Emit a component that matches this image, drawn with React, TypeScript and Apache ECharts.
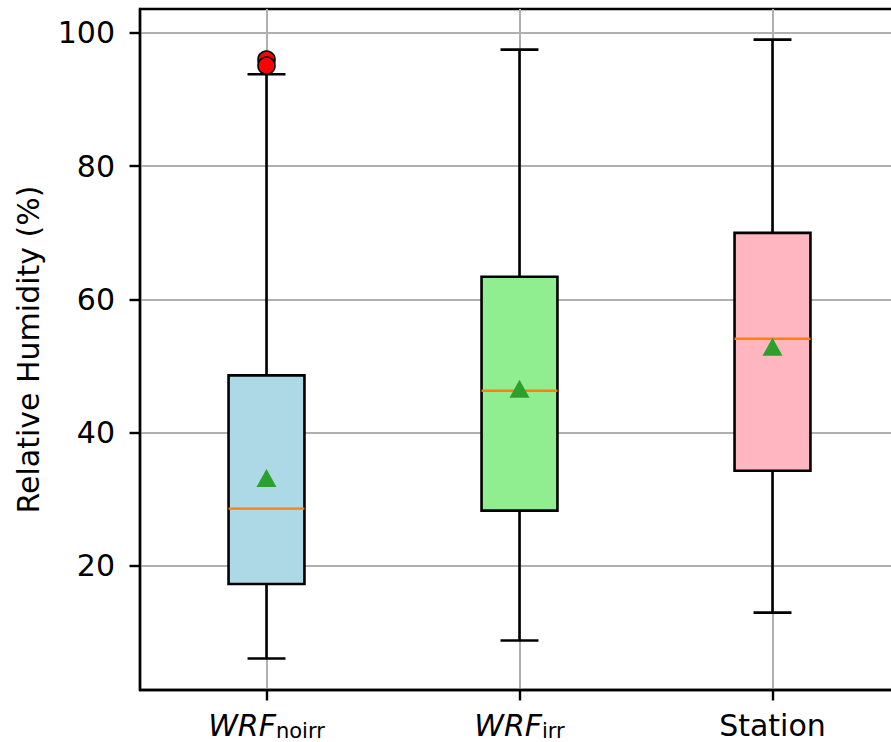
import React, { useEffect, useRef } from "react";
import * as echarts from "echarts";

// ---- data ----
const categories = ["WRF_noirr", "WRF_irr", "Station"];
const tickMain = ["WRF", "WRF", "Station"];
const tickSub = ["noirr", "irr", ""];
const whiskerLow = [6.1, 8.8, 13.0];
const q1 = [17.3, 28.3, 34.3];
const median = [28.6, 46.3, 54.1];
const q3 = [48.6, 63.4, 70.0];
const whiskerHigh = [93.8, 97.5, 99.0];
const means = [33.2, 46.6, 52.9];
const outliers = [
  [1, 96.0],
  [1, 95.1],
];
const yTicks = [20, 40, 60, 80, 100];
const xTicks = [1, 2, 3];

const boxColors = ["#ADD8E6", "#90EE90", "#FFB6C1"];
const FONT = "DejaVu Sans";
const LW = 2.6;
const BOX_W = 0.3;
const CAP_W = 0.15;

export default function App() {
  const ref = useRef<HTMLDivElement>(null);
  useEffect(() => {
    if (!ref.current) return;
    const chart = echarts.init(ref.current, null, { renderer: "svg" });
    const boxData = categories.map((_, i) => [
      i + 1,
      whiskerLow[i],
      q1[i],
      median[i],
      q3[i],
      whiskerHigh[i],
    ]);
    const option: any = {
      animation: false,
      backgroundColor: "#fff",
      grid: {
        left: 140,
        top: 9,
        bottom: 52,
        right: -8,
        containLabel: false,
        outerBoundsMode: "none",
        show: true,
        borderColor: "#000",
        borderWidth: 2.4,
        backgroundColor: "transparent",
      },
      xAxis: {
        type: "value",
        min: 0.5,
        max: 3.5,
        axisLine: { show: true, onZero: false, lineStyle: { color: "#000", width: 2.4 } },
        axisTick: {
          show: true,
          customValues: xTicks,
          length: 10.5,
          lineStyle: { color: "#000", width: 2.4 },
        },
        splitLine: { show: true, lineStyle: { color: "#b0b0b0", width: 2 } },
        axisLabel: {
          customValues: xTicks,
          margin: 19,
          color: "#000",
          fontFamily: FONT,
          formatter: (v: number) => {
            const i = Math.round(v) - 1;
            if (i < 0 || i >= tickMain.length) return "";
            if (tickSub[i]) return `{i|${tickMain[i]}}{s|${tickSub[i]}}`;
            return `{n|${tickMain[i]}}`;
          },
          rich: {
            i: {
              fontFamily: FONT,
              fontStyle: "italic",
              fontSize: 30,
              lineHeight: 32,
              color: "#000",
              verticalAlign: "middle",
            },
            s: {
              fontFamily: FONT,
              fontSize: 21,
              lineHeight: 16,
              color: "#000",
              verticalAlign: "bottom",
            },
            n: {
              fontFamily: FONT,
              fontSize: 30,
              lineHeight: 32,
              color: "#000",
              verticalAlign: "middle",
            },
          },
        },
      },
      yAxis: {
        type: "value",
        min: 1.38,
        max: 103.6,
        name: "Relative Humidity (%)",
        nameLocation: "middle",
        nameGap: 97,
        nameTextStyle: { fontFamily: FONT, fontSize: 30, color: "#000" },
        axisLine: { show: true, lineStyle: { color: "#000", width: 2.4 } },
        axisTick: {
          show: true,
          customValues: yTicks,
          length: 10.5,
          lineStyle: { color: "#000", width: 2.4 },
        },
        splitLine: { show: true, lineStyle: { color: "#b0b0b0", width: 2 } },
        axisLabel: {
          customValues: yTicks,
          margin: 25,
          fontFamily: FONT,
          fontSize: 30,
          color: "#000",
        },
      },
      series: [
        {
          type: "custom",
          data: boxData,
          encode: { x: 0, y: [1, 2, 3, 4, 5] },
          z: 3,
          renderItem: (params: any, api: any) => {
            const x = api.value(0);
            const lo = api.coord([x, api.value(1)]);
            const b1 = api.coord([x, api.value(2)]);
            const md = api.coord([x, api.value(3)]);
            const b3 = api.coord([x, api.value(4)]);
            const hi = api.coord([x, api.value(5)]);
            const hb = api.size([BOX_W, 0])[0] / 2;
            const hc = api.size([CAP_W, 0])[0] / 2;
            const cx = md[0];
            const stroke = { stroke: "#000", lineWidth: LW };
            return {
              type: "group",
              children: [
                { type: "line", shape: { x1: cx, y1: lo[1], x2: cx, y2: b1[1] }, style: stroke },
                { type: "line", shape: { x1: cx, y1: b3[1], x2: cx, y2: hi[1] }, style: stroke },
                { type: "line", shape: { x1: cx - hc, y1: lo[1], x2: cx + hc, y2: lo[1] }, style: stroke },
                { type: "line", shape: { x1: cx - hc, y1: hi[1], x2: cx + hc, y2: hi[1] }, style: stroke },
                {
                  type: "rect",
                  shape: { x: cx - hb, y: b3[1], width: 2 * hb, height: b1[1] - b3[1] },
                  style: { fill: boxColors[params.dataIndex], stroke: "#000", lineWidth: LW },
                },
                {
                  type: "line",
                  shape: { x1: cx - hb, y1: md[1], x2: cx + hb, y2: md[1] },
                  style: { stroke: "#FF7F0E", lineWidth: 2.4 },
                },
              ],
            };
          },
        },
        {
          type: "scatter",
          data: means.map((m, i) => [i + 1, m]),
          symbol: "triangle",
          symbolSize: [20, 18],
          itemStyle: { color: "#2CA02C", opacity: 1 },
          z: 5,
        },
        {
          type: "scatter",
          data: outliers,
          symbol: "circle",
          symbolSize: 17,
          itemStyle: { color: "#FF0000", borderColor: "#000", borderWidth: 1.6, opacity: 1 },
          z: 6,
        },
      ],
    };
    chart.setOption(option);
    return () => chart.dispose();
  }, []);
  return (
    <div
      ref={ref}
      style={{ position: "absolute", left: 0, top: 0, width: 891, height: 742 }}
    />
  );
}
